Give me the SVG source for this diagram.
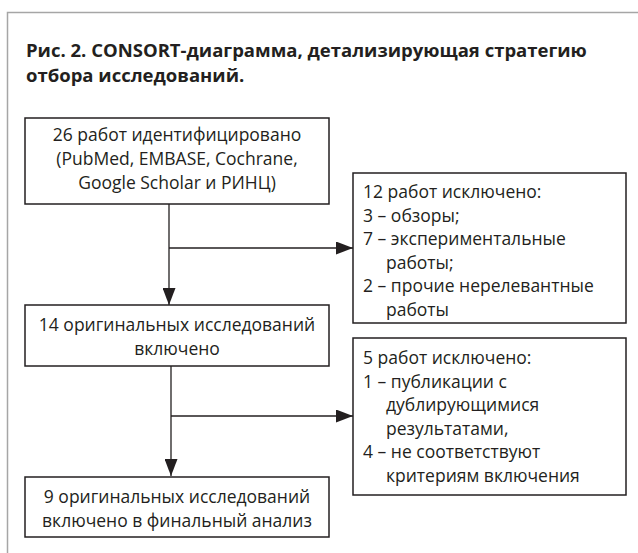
<svg xmlns="http://www.w3.org/2000/svg" width="638" height="553" viewBox="0 0 638 553">
<defs>
<style>
.frame{fill:none;stroke:#a6a6a6;stroke-width:1.5}
.box{fill:#fff;stroke:#231f20;stroke-width:1.5}
.t{font-family:"Open Sans","Noto Sans","Liberation Sans",sans-serif;font-size:17.5px;fill:#231f20}
.c{text-anchor:middle}
.title{font-family:"Open Sans","Noto Sans","Liberation Sans",sans-serif;font-size:18.5px;font-weight:bold;fill:#231f20}
.ln{fill:none;stroke:#231f20;stroke-width:1.3}
</style>
<marker id="ah" markerWidth="17" markerHeight="13" refX="17" refY="6.5" orient="auto" markerUnits="userSpaceOnUse">
<path d="M0,0 L17,6.5 L0,13 Z" fill="#231f20"/>
</marker>
</defs>
<rect width="638" height="553" fill="#fff"/>
<path class="frame" d="M7.5,553 V12.5 H638"/>
<g id="title">
<text class="title" x="26" y="57">Рис. 2. CONSORT-диаграмма, детализирующая стратегию</text>
<text class="title" x="26" y="82">отбора исследований.</text>
</g>
<g id="connectors">
<path class="ln" d="M169,204 V305" marker-end="url(#ah)"/>
<path class="ln" d="M169,248 H353" marker-end="url(#ah)"/>
<path class="ln" d="M171,366 V476" marker-end="url(#ah)"/>
<path class="ln" d="M171,416 H353" marker-end="url(#ah)"/>
</g>
<g id="n1">
<rect class="box" x="25" y="118" width="304" height="86"/>
<text class="t c" x="177" y="141">26 работ идентифицировано</text>
<text class="t c" x="177" y="165">(PubMed, EMBASE, Cochrane,</text>
<text class="t c" x="177" y="189">Google Scholar и РИНЦ)</text>
</g>
<g id="n2">
<rect class="box" x="353" y="173" width="273" height="150"/>
<text class="t" x="363" y="198">12 работ исключено:</text>
<text class="t" x="363" y="221.5">3 – обзоры;</text>
<text class="t" x="363" y="245">7 – экспериментальные</text>
<text class="t" x="386" y="268.5">работы;</text>
<text class="t" x="363" y="292">2 – прочие нерелевантные</text>
<text class="t" x="386" y="315.5">работы</text>
</g>
<g id="n3">
<rect class="box" x="25" y="305" width="304" height="61"/>
<text class="t c" x="177" y="331">14 оригинальных исследований</text>
<text class="t c" x="177" y="355">включено</text>
</g>
<g id="n4">
<rect class="box" x="353" y="338" width="273" height="157"/>
<text class="t" x="363" y="364">5 работ исключено:</text>
<text class="t" x="363" y="387.5">1 – публикации с</text>
<text class="t" x="386" y="411">дублирующимися</text>
<text class="t" x="386" y="434.5">результатами,</text>
<text class="t" x="363" y="458">4 – не соответствуют</text>
<text class="t" x="386" y="481.5">критериям включения</text>
</g>
<g id="n5">
<rect class="box" x="25" y="477" width="304" height="60"/>
<text class="t c" x="177" y="503">9 оригинальных исследований</text>
<text class="t c" x="177" y="527">включено в финальный анализ</text>
</g>
</svg>
